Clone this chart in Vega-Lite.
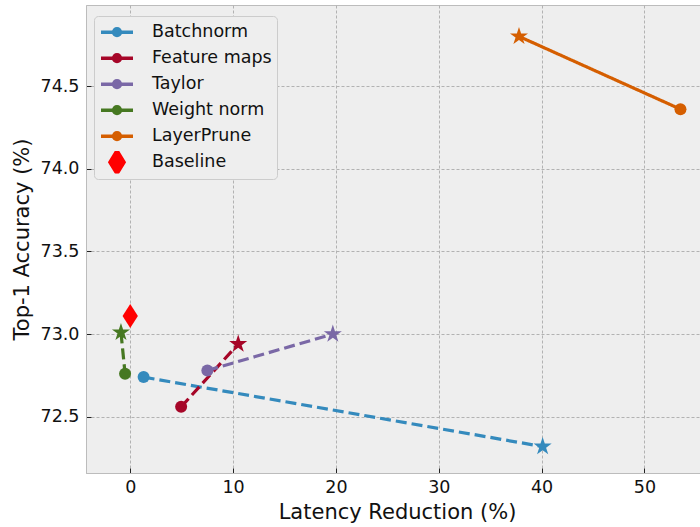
{
  "$schema": "https://vega.github.io/schema/vega-lite/v6.json",
  "autosize": "none",
  "width": 614,
  "height": 468,
  "padding": {"left": 86, "top": 5, "right": 0, "bottom": 54},
  "background": "white",
  "config": {
    "font": "DejaVu Sans",
    "view": {"fill": "#eeeeee", "stroke": "#bcbcbc", "strokeWidth": 1},
    "axis": {
      "domainColor": "#bcbcbc",
      "domainWidth": 1,
      "tickColor": "#222222",
      "tickSize": -5,
      "tickWidth": 1,
      "labelFont": "DejaVu Sans",
      "labelFontSize": 17.5,
      "labelColor": "#111111",
      "titleFont": "DejaVu Sans",
      "titleFontSize": 21,
      "titleFontWeight": "normal",
      "titleColor": "#111111",
      "grid": true,
      "gridColor": "#b2b2b2",
      "gridDash": [3, 2],
      "gridWidth": 1
    }
  },
  "data": {
    "values": [
      {"method": "Batchnorm", "x": 1.3, "y": 72.74, "marker": "circle", "dash": "dashed"},
      {"method": "Batchnorm", "x": 40.1, "y": 72.32, "marker": "star", "dash": "dashed"},
      {"method": "Feature maps", "x": 4.95, "y": 72.56, "marker": "circle", "dash": "dashed"},
      {"method": "Feature maps", "x": 10.5, "y": 72.94, "marker": "star", "dash": "dashed"},
      {"method": "Taylor", "x": 7.5, "y": 72.78, "marker": "circle", "dash": "dashed"},
      {"method": "Taylor", "x": 19.7, "y": 73.0, "marker": "star", "dash": "dashed"},
      {"method": "Weight norm", "x": -0.5, "y": 72.76, "marker": "circle", "dash": "dashed"},
      {"method": "Weight norm", "x": -0.9, "y": 73.01, "marker": "star", "dash": "dashed"},
      {"method": "LayerPrune", "x": 37.8, "y": 74.8, "marker": "star", "dash": "solid"},
      {"method": "LayerPrune", "x": 53.5, "y": 74.36, "marker": "circle", "dash": "solid"},
      {"method": "Baseline", "x": 0.0, "y": 73.11, "marker": "diamond", "dash": "none"}
    ]
  },
  "encoding": {
    "x": {
      "field": "x", "type": "quantitative",
      "scale": {"domain": [-4.3, 55.4], "nice": false, "zero": false},
      "axis": {"values": [0, 10, 20, 30, 40, 50], "title": "Latency Reduction (%)", "labelPadding": 10, "titlePadding": 6, "titleX": 311}
    },
    "y": {
      "field": "y", "type": "quantitative",
      "scale": {"domain": [72.16, 74.99], "nice": false, "zero": false},
      "axis": {"values": [72.5, 73.0, 73.5, 74.0, 74.5], "format": ".1f", "title": "Top-1 Accuracy (%)", "labelPadding": 12, "titlePadding": 8}
    },
    "color": {
      "field": "method", "type": "nominal",
      "scale": {
        "domain": ["Batchnorm", "Feature maps", "Taylor", "Weight norm", "LayerPrune", "Baseline"],
        "range": ["#348ABD", "#A60628", "#7A68A6", "#467821", "#D55E00", "#FF0000"]
      },
      "legend": {
        "title": null,
        "orient": "none",
        "legendX": 8,
        "legendY": 11,
        "padding": 5,
        "fillColor": "#eeeeee",
        "strokeColor": "#cccccc",
        "cornerRadius": 4,
        "symbolSize": 1024,
        "clipHeight": 22.4,
        "rowPadding": 3,
        "labelFont": "DejaVu Sans",
        "labelFontSize": 17.5,
        "labelColor": "#111111",
        "labelOffset": 17,
        "symbolOpacity": 1,
        "symbolStrokeWidth": 3.5,
        "encode": {
          "symbols": {
            "update": {
              "shape": {"signal": "datum.value === 'Baseline' ? 'M0,-0.72L0.44,0L0,0.72L-0.44,0Z' : 'M-1,0L1,0M-0.21,0A0.21,0.21,0,1,1,0.21,0A0.21,0.21,0,1,1,-0.21,0Z'"}
            }
          }
        }
      }
    }
  },
  "layer": [
    {
      "transform": [{"filter": "datum.dash !== 'none'"}],
      "mark": {"type": "line", "strokeWidth": 3.2},
      "encoding": {
        "strokeDash": {
          "field": "dash", "type": "nominal",
          "scale": {"domain": ["dashed", "solid"], "range": [[11, 5], [1, 0]]},
          "legend": null
        }
      }
    },
    {
      "mark": {"type": "point", "filled": true, "opacity": 1},
      "encoding": {
        "shape": {
          "field": "marker", "type": "nominal",
          "scale": {"domain": ["circle", "star", "diamond"], "range": ["circle", "M0,-1L0.2245,-0.309L0.951,-0.309L0.3633,0.118L0.588,0.809L0,0.382L-0.588,0.809L-0.3633,0.118L-0.951,-0.309L-0.2245,-0.309Z", "M0,-1L0.64,0L0,1L-0.64,0Z"]},
          "legend": null
        },
        "size": {
          "field": "marker", "type": "nominal",
          "scale": {"domain": ["circle", "star", "diamond"], "range": [144, 576, 484]},
          "legend": null
        }
      }
    }
  ]
}
